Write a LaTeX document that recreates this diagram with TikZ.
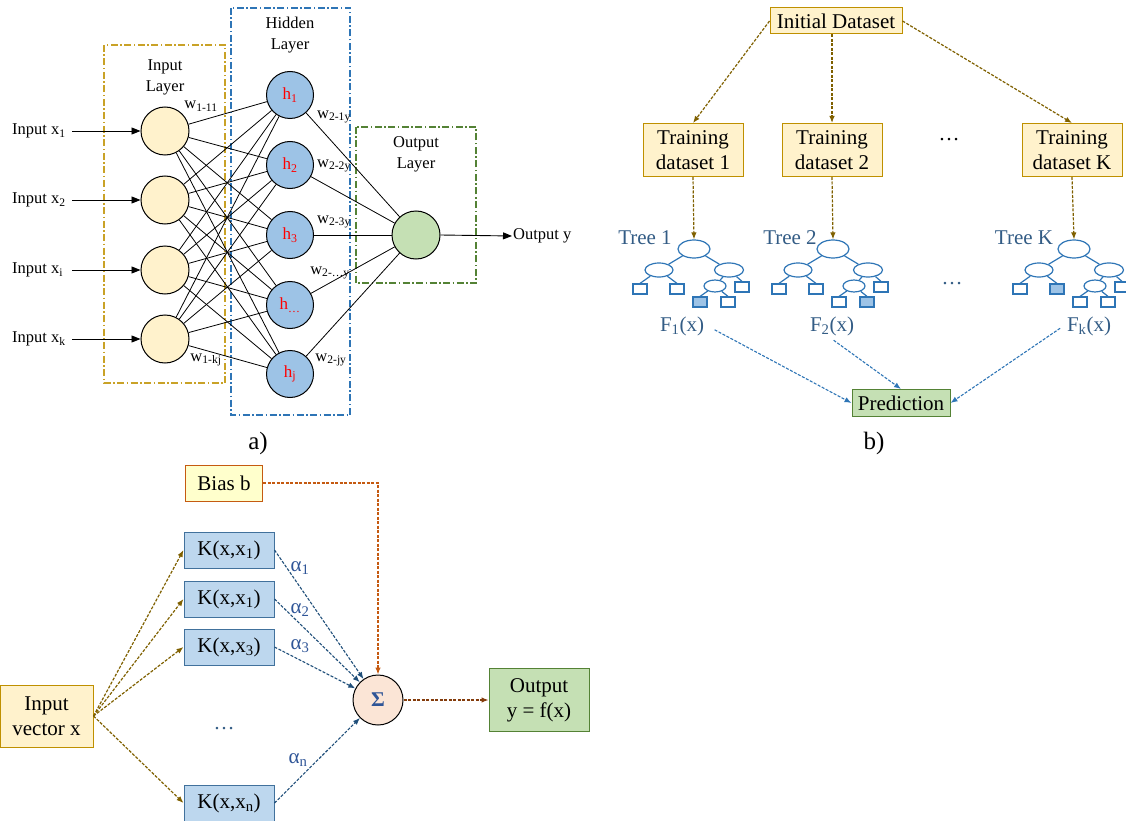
\documentclass[tikz,border=0pt]{standalone}
\usepackage{fontspec}
\setmainfont{Liberation Serif}
\usetikzlibrary{arrows.meta,shapes.geometric,calc}
\definecolor{yfill}{HTML}{FFF2CC}
\definecolor{goldline}{HTML}{BF9000}
\definecolor{goldarr}{HTML}{7F6000}
\definecolor{bfill}{HTML}{9DC3E6}
\definecolor{kfill}{HTML}{BDD7EE}
\definecolor{kline}{HTML}{41719C}
\definecolor{gfill}{HTML}{C5E0B4}
\definecolor{gline}{HTML}{548235}
\definecolor{blueline}{HTML}{2E75B6}
\definecolor{darkblue}{HTML}{1F4E79}
\definecolor{slate}{HTML}{335C85}
\definecolor{orangeline}{HTML}{C55A11}
\definecolor{brownarr}{HTML}{843C0C}
\definecolor{biasfill}{HTML}{FFFFCC}
\definecolor{sigfill}{HTML}{FBE5D6}
\definecolor{sigtext}{HTML}{2F5597}
\definecolor{inlayer}{HTML}{C9A227}
\tikzset{
 lay/.style={line width=1.3pt, dash pattern=on 7pt off 2.5pt on 1.5pt off 2.5pt},
 neuron/.style={circle, draw, line width=1pt, inner sep=0pt},
 syn/.style={line width=0.8pt},
 ta/.style={font=\fontsize{16.5}{21}\selectfont, inner sep=1pt},
 tb/.style={font=\fontsize{21}{25}\selectfont},
 dbox/.style={draw=goldline, fill=yfill, line width=1pt, inner sep=2pt, align=center, tb},
 garr/.style={draw=goldarr, line width=1.2pt, dash pattern=on 3pt off 1.5pt, -{Latex[length=7pt,width=5.5pt]}},
 barr/.style={draw=blueline, line width=1.1pt, dash pattern=on 3pt off 1.5pt, -{Latex[length=7pt,width=5.5pt]}},
 darr/.style={draw=darkblue, line width=1.1pt, dash pattern=on 3pt off 1.5pt, -{Latex[length=7pt,width=5.5pt]}},
 oarr/.style={draw=orangeline, line width=1.2pt, dash pattern=on 3pt off 1.5pt, -{Latex[length=7pt,width=5.5pt]}},
 brarr/.style={draw=brownarr, line width=1.2pt, dash pattern=on 3pt off 1.5pt, -{Latex[length=7pt,width=5.5pt]}},
 tnode/.style={ellipse, draw=blueline, fill=white, line width=1.2pt, inner sep=0pt},
 leaf/.style={rectangle, draw=blueline, fill=white, line width=1.2pt, minimum width=14pt, minimum height=10pt, inner sep=0pt},
 lf/.style={fill=bfill},
 tedge/.style={draw=blueline, line width=1.2pt},
 kbox/.style={draw=kline, fill=kfill, line width=1pt, minimum width=90pt, minimum height=36pt, inner sep=0pt, tb},
}
\newcommand\rfTree[5]{%
 \begin{scope}[shift={(#1,249)}]
  \node[tnode, minimum width=32pt, minimum height=18pt] (#2r) at (0,0) {};
  \node[tnode, minimum width=28pt, minimum height=14pt] (#2a) at (-35,21) {};
  \node[tnode, minimum width=29pt, minimum height=14pt] (#2b) at (35,21) {};
  \node[leaf] (#2a1) at (-54,40) {};
  \node[leaf,#3] (#2a2) at (-17,40) {};
  \node[tnode, minimum width=22pt, minimum height=12pt] (#2c) at (21,37) {};
  \node[leaf] (#2b2) at (48,38) {};
  \node[leaf,#4] (#2c1) at (6,53) {};
  \node[leaf,#5] (#2c2) at (34,53) {};
  \draw[tedge] (#2r) -- (#2a);
  \draw[tedge] (#2r) -- (#2b);
  \draw[tedge] (#2a) -- (#2a1.north);
  \draw[tedge] (#2a) -- (#2a2.north);
  \draw[tedge] (#2b) -- (#2c);
  \draw[tedge] (#2b) -- (#2b2.north);
  \draw[tedge] (#2c) -- (#2c1.north);
  \draw[tedge] (#2c) -- (#2c2.north);
 \end{scope}}
\begin{document}
\begin{tikzpicture}[x=1pt,y=-1pt]
\useasboundingbox (0,0) rectangle (1126,821);
% ---------------- panel a ----------------
\draw[lay, draw=inlayer] (104,45) rectangle (225,383);
\draw[lay, draw=blueline] (231,8) rectangle (350,415);
\draw[lay, draw=gline] (356,127) rectangle (476,283);
\node[ta, align=center] (lin) at (165,77) {Input\\Layer};
\node[ta, align=center] (lhid) at (290,35) {Hidden\\Layer};
\node[ta, align=center] (lout) at (416,154) {Output\\Layer};
\foreach \n/\y in {1/131,2/200,3/270,4/339}
  \node[neuron, fill=yfill, minimum size=48pt] (i\n) at (165,\y) {};
\foreach \n/\y/\t in {1/95/1,2/165/2,3/235/3,4/305/…,5/374/j}
  \node[neuron, fill=bfill, minimum size=47pt, text=red, font=\fontsize{17}{20}\selectfont] (h\n) at (290,\y) {h\textsubscript{\t}};
\node[neuron, fill=gfill, minimum size=48pt] (o) at (416,235) {};
\foreach \i in {1,...,4}
  \foreach \j in {1,...,5}
    \draw[syn] (i\i) -- (h\j);
\foreach \j in {1,...,5}
  \draw[syn] (h\j) -- (o);
\foreach \n/\y/\t in {1/131/1,2/200/2,3/270/i,4/339/k}{
  \node[ta, anchor=west] (x\n) at (11,\y) {Input x\textsubscript{\t}};
  \draw[line width=0.9pt, -{Triangle[length=9pt,width=7pt]}] (72,\y) -- (i\n.west);
}
\node[ta, anchor=west] (oy) at (512,236) {Output y};
\draw[line width=0.9pt, -{Triangle[length=9pt,width=7pt]}] (o.east) -- (oy.west);
\node[ta] (w111) at (201,106) {w\textsubscript{1-11}};
\node[ta] (w1kj) at (206,360) {w\textsubscript{1-kj}};
\node[ta] (w21) at (334,117) {w\textsubscript{2-1y}};
\node[ta] (w22) at (334,166) {w\textsubscript{2-2y}};
\node[ta] (w23) at (334,222) {w\textsubscript{2-3y}};
\node[ta] (w2d) at (330,273) {w\textsubscript{2-…y}};
\node[ta] (w2j) at (331,360) {w\textsubscript{2-jy}};
\node[font=\fontsize{25}{30}\selectfont] (capa) at (258,443) {a)};
% ---------------- panel b ----------------
\node[dbox, minimum width=132pt, minimum height=26pt] (ids) at (836,21) {Initial Dataset};
\node[dbox, minimum width=100pt, minimum height=53pt] (td1) at (693,150) {Training\\dataset 1};
\node[dbox, minimum width=100pt, minimum height=53pt] (td2) at (832,150) {Training\\dataset 2};
\node[dbox, minimum width=100pt, minimum height=53pt] (tdk) at (1072,150) {Training\\dataset K};
\node[tb] (bdots) at (949,140) {…};
\draw[garr] (ids.west) -- (td1.north);
\draw[garr] (ids.south -| td2.north) -- (td2.north);
\draw[garr] (ids.east) -- (tdk.north);
\rfTree{694}{t1}{}{lf}{}
\rfTree{833}{t2}{}{}{lf}
\rfTree{1074}{tk}{lf}{}{}
\draw[garr] (td1.south) -- (t1r.north);
\draw[garr] (td2.south) -- (t2r.north);
\draw[garr] (tdk.south) -- (tkr.north);
\node[tb, text=slate] (tl1) at (645,238) {Tree 1};
\node[tb, text=slate] (tl2) at (790,238) {Tree 2};
\node[tb, text=slate] (tlk) at (1024,238) {Tree K};
\node[tb, text=slate] (tdots) at (952,284) {…};
\node[tb, text=slate] (f1) at (682,326) {F\textsubscript{1}(x)};
\node[tb, text=slate] (f2) at (832,326) {F\textsubscript{2}(x)};
\node[tb, text=slate] (fk) at (1089,326) {F\textsubscript{k}(x)};
\node[draw=gline, fill=gfill, line width=1pt, minimum width=98pt, minimum height=27pt, inner sep=1pt, tb] (pred) at (901,403) {Prediction};
\draw[barr, shorten <=8pt] (f1.east) -- (pred.west);
\draw[barr, shorten <=2pt] (f2.south) -- (pred.north);
\draw[barr, shorten <=4pt] (fk.west) -- (pred.east);
\node[font=\fontsize{25}{30}\selectfont] (capb) at (874,443) {b)};
% ---------------- panel c ----------------
\node[draw=orangeline, fill=biasfill, line width=1pt, minimum width=77pt, minimum height=36pt, inner sep=0pt, tb] (bias) at (224,483) {Bias b};
\node[kbox] (k1) at (229,550) {K(x,x\textsubscript{1})};
\node[kbox] (k2) at (229,599) {K(x,x\textsubscript{1})};
\node[kbox] (k3) at (229,647) {K(x,x\textsubscript{3})};
\node[kbox] (kn) at (229,803) {K(x,x\textsubscript{n})};
\node[dbox, minimum width=93pt, minimum height=62pt, inner sep=0pt] (inv) at (46.5,716) {Input\\vector x};
\node[tb, text=slate] (cdots) at (224,729) {…};
\node[neuron, fill=sigfill, minimum size=50pt, font=\fontsize{21}{24}\selectfont\bfseries, text=sigtext] (sig) at (378,700) {Σ};
\node[draw=gline, fill=gfill, line width=1pt, minimum width=100pt, minimum height=63pt, inner sep=0pt, align=center, tb] (out) at (539,700) {Output\\y = f(x)};
\foreach \k in {k1,k2,k3,kn}{
  \draw[garr] (inv.east) -- (\k.west);
  \draw[darr] (\k.east) -- (sig);
}
\draw[oarr] (bias.east) -| (sig.north);
\draw[brarr] (sig.east) -- (out.west);
\node[tb, text=sigtext] (a1) at (300,568) {α\textsubscript{1}};
\node[tb, text=sigtext] (a2) at (300,610) {α\textsubscript{2}};
\node[tb, text=sigtext] (a3) at (300,646) {α\textsubscript{3}};
\node[tb, text=sigtext] (an) at (298,760) {α\textsubscript{n}};
\end{tikzpicture}
\end{document}
